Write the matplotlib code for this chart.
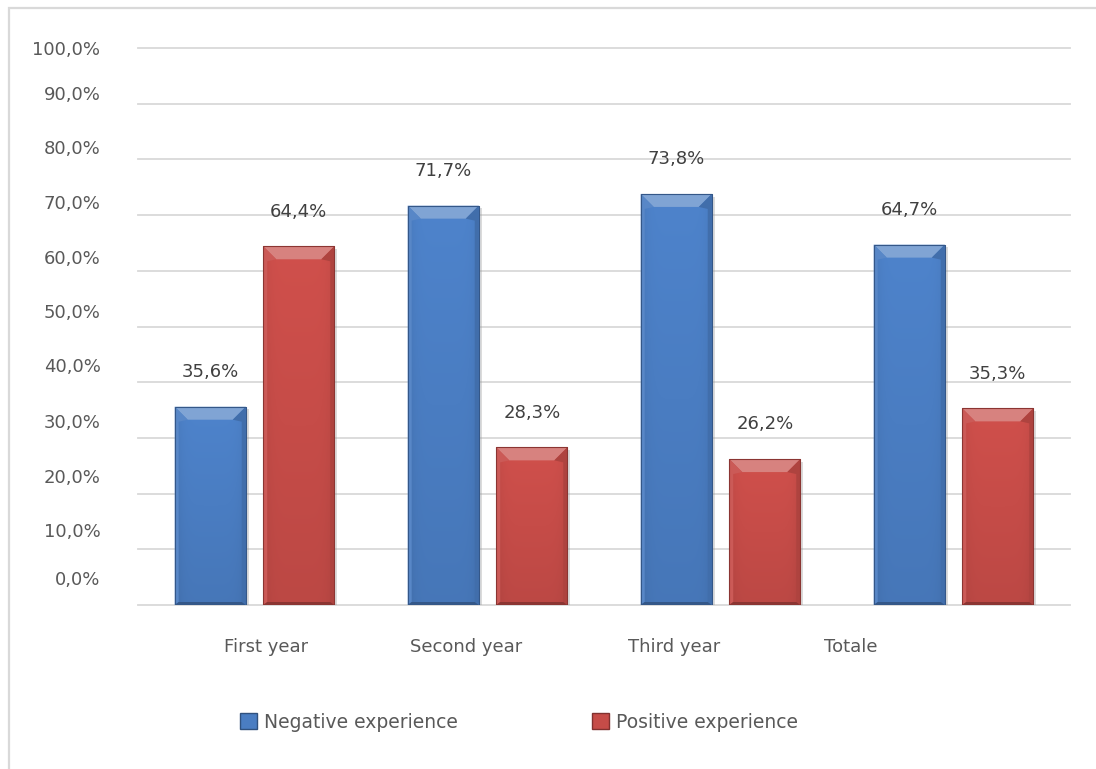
import numpy as np
import matplotlib.pyplot as plt
from matplotlib.patches import Polygon, Rectangle, Patch
from matplotlib.ticker import FixedLocator, NullFormatter, FixedFormatter
from matplotlib.colors import to_rgb
import matplotlib.patheffects as pe

categories = ["First year", "Second year", "Third year", "Totale"]
negative = [35.6, 71.7, 73.8, 64.7]
positive = [64.4, 28.3, 26.2, 35.3]
series_names = ["Negative experience", "Positive experience"]

grid_values = [0, 10, 20, 30, 40, 50, 60, 70, 80, 90, 100]
# where the tick texts sit along the value axis
grid_label_pos = [4.8, 13.4, 23.1, 33.1, 43.1, 52.7, 62.5, 72.3, 82.3, 92.0, 100]
cat_label_pos = [0.05, 0.91, 1.80, 2.56]

BLUE = "#4A7DC2"
RED = "#C64C48"
GRID = "#D9D9D9"
AXIS_TEXT = "#595959"
LABEL_TEXT = "#404040"

W, H = 1096, 769


def pct(v):
    return f"{v:.1f}%".replace(".", ",")


def blend(c, other, t):
    c = np.array(to_rgb(c))
    o = np.array(to_rgb(other))
    return tuple(c * (1 - t) + o * t)


def shade_bar(ax, bar, base, sx, sy):
    x0, y0 = bar.get_x(), bar.get_y()
    w, h = bar.get_width(), bar.get_height()
    x1, top = x0 + w, y0 + h

    # body gradient: lighter at the top, darker towards the sides
    yy = np.linspace(0, 1, 80)[:, None]
    xx = np.linspace(-1, 1, 40)[None, :]
    f = 0.95 + 0.10 * yy - 0.08 * np.abs(xx) ** 6
    rgb = np.clip(np.array(to_rgb(base))[None, None, :] * f[:, :, None], 0, 1)
    im = ax.imshow(rgb, origin="lower", extent=(x0, x1, y0, top),
                   aspect="auto", zorder=2.1, interpolation="bilinear")
    im.set_clip_path(bar)

    bx, by = 13 * sx, 13 * sy
    side = 4 * sx
    bot = 3 * sy
    # top bevel
    ax.add_patch(Polygon([(x0, top), (x1, top), (x1 - bx, top - by), (x0 + bx, top - by)],
                         closed=True, facecolor=blend(base, "white", 0.30),
                         edgecolor="none", zorder=2.2))
    # side bevels
    ax.add_patch(Polygon([(x0, top), (x0 + bx, top - by), (x0 + side, top - by - 2 * sy),
                          (x0 + side, y0 + bot), (x0, y0)],
                         closed=True, facecolor=blend(base, "white", 0.08),
                         edgecolor="none", zorder=2.2))
    ax.add_patch(Polygon([(x1, top), (x1 - bx, top - by), (x1 - side, top - by - 2 * sy),
                          (x1 - side, y0 + bot), (x1, y0)],
                         closed=True, facecolor=blend(base, "black", 0.12),
                         edgecolor="none", zorder=2.2))
    # bottom bevel
    ax.add_patch(Polygon([(x0, y0), (x1, y0), (x1 - side, y0 + bot), (x0 + side, y0 + bot)],
                         closed=True, facecolor=blend(base, "black", 0.3),
                         edgecolor="none", zorder=2.2))
    # thin outline
    ax.add_patch(Rectangle((x0, y0), w, h, facecolor="none",
                           edgecolor=blend(base, "black", 0.3), lw=0.8, zorder=2.3))


fig = plt.figure(figsize=(W / 100, H / 100), dpi=100)
ax = fig.add_axes([138 / W, 1 - 605 / H, 932 / W, 557 / H])

x = np.arange(len(categories))
width = 0.305
offset = 0.19

ax.set_xlim(-0.5, 3.5)
ax.set_ylim(0, 100)

sx = 4.0 / ax.bbox.width
sy = 100.0 / ax.bbox.height

shadow = [pe.SimplePatchShadow(offset=(2, -2), shadow_rgbFace="#9a9a9a", alpha=0.35), pe.Normal()]
neg_bars = ax.bar(x - offset, negative, width, color=BLUE, zorder=2, path_effects=shadow)
pos_bars = ax.bar(x + offset, positive, width, color=RED, zorder=2, path_effects=shadow)

for bars, base, vals in [(neg_bars, BLUE, negative), (pos_bars, RED, positive)]:
    for bar, v in zip(bars, vals):
        shade_bar(ax, bar, base, sx, sy)
        ax.annotate(pct(v), (bar.get_x() + bar.get_width() / 2, v),
                    xytext=(0, 25), textcoords="offset points",
                    ha="center", va="center", fontsize=13, color=LABEL_TEXT,
                    zorder=4)

# value axis: gridlines on the major ticks, texts on the minor ones
ax.yaxis.remove_overlapping_locs = False
ax.yaxis.set_major_locator(FixedLocator(grid_values))
ax.yaxis.set_major_formatter(NullFormatter())
ax.yaxis.set_minor_locator(FixedLocator(grid_label_pos))
ax.yaxis.set_minor_formatter(FixedFormatter([pct(v) for v in grid_values]))
ax.tick_params(axis="y", which="both", length=0)
ax.tick_params(axis="y", which="minor", pad=27, labelsize=13, labelcolor=AXIS_TEXT)

ax.xaxis.set_major_locator(FixedLocator(x))
ax.xaxis.set_major_formatter(NullFormatter())
ax.xaxis.set_minor_locator(FixedLocator(cat_label_pos))
ax.xaxis.set_minor_formatter(FixedFormatter(categories))
ax.tick_params(axis="x", which="both", length=0)
ax.tick_params(axis="x", which="minor", pad=24, labelsize=13, labelcolor=AXIS_TEXT)

ax.grid(True, axis="y", which="major", color=GRID, linewidth=1.3, zorder=0)
for line in ax.get_ygridlines():
    line.set_clip_on(False)
ax.set_axisbelow(True)
for s in ax.spines.values():
    s.set_visible(False)

handles = [Patch(facecolor=BLUE, edgecolor=blend(BLUE, "black", 0.35)),
           Patch(facecolor=RED, edgecolor=blend(RED, "black", 0.35))]
fig.legend(handles, series_names, loc="center", bbox_to_anchor=(519 / W, 1 - 722 / H),
           ncol=2, frameon=False, fontsize=13.5, handlelength=0.9, handleheight=1.0,
           handletextpad=0.35, columnspacing=7.2, labelcolor=AXIS_TEXT)

# chart area frame
fig.add_artist(Rectangle((8.5 / W, -0.05), 1.0, 1 - 7.5 / H + 0.05, transform=fig.transFigure,
                         fill=False, edgecolor=GRID, linewidth=1.6))

fig.savefig("out.png", dpi=100)
